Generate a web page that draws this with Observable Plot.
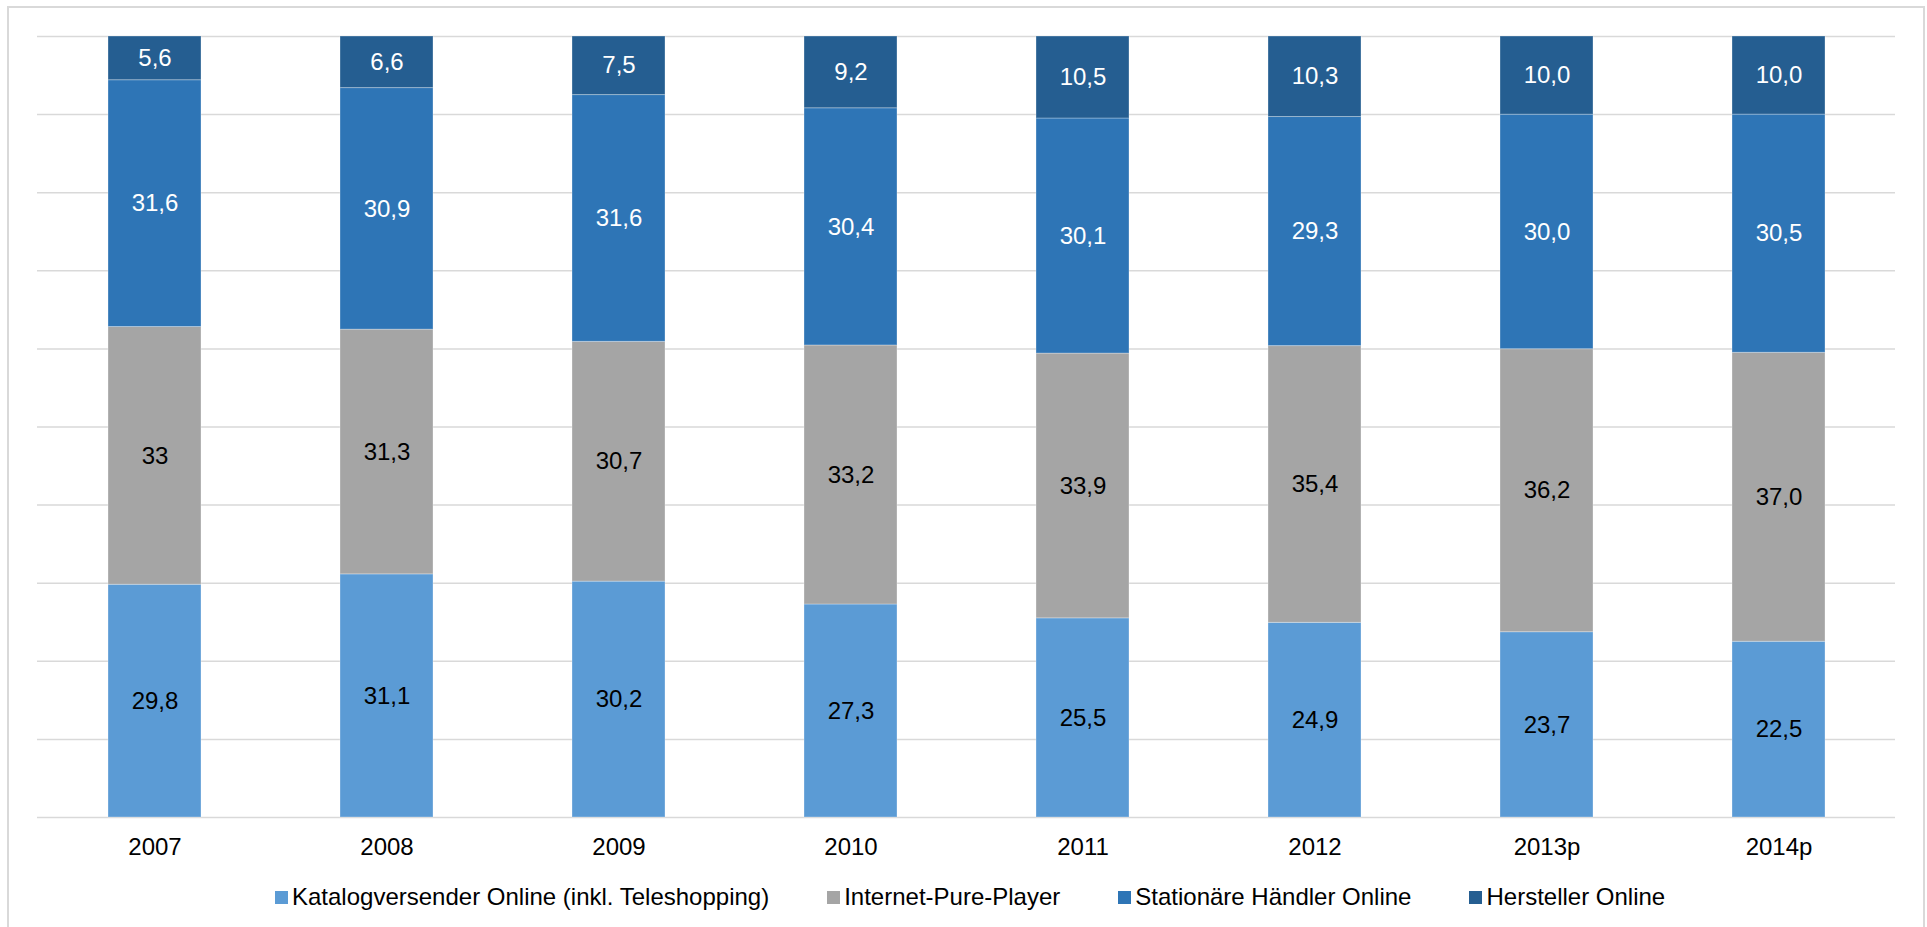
<!DOCTYPE html>
<html>
<head>
<meta charset="utf-8">
<script src="https://cdn.jsdelivr.net/npm/d3@7"></script>
<script src="https://cdn.jsdelivr.net/npm/@observablehq/plot@0.6"></script>
<style>
html, body { margin: 0; padding: 0; background: #fff; overflow: hidden; width: 1927px; height: 927px; }
#wrap { position: relative; width: 1927px; height: 927px; font-family: "Liberation Sans", Arial, sans-serif; }
#frame { position: absolute; left: 7px; top: 6px; width: 1914px; height: 1000px; border: 2px solid #d9d9d9; pointer-events: none; }
#chart { position: absolute; left: 0; top: 0; }
#legend { position: absolute; left: 275px; top: 885px; display: flex; gap: 58px; font-size: 24px; line-height: 24px; color: #000; white-space: nowrap; }
.item { display: flex; align-items: center; }
.sw { width: 13px; height: 13px; margin-right: 4px; }
</style>
</head>
<body>
<div id="wrap">
  <div id="chart"></div>
  <div id="legend"></div>
  <div id="frame"></div>
</div>
<script>
// ---- data ----
const years = ["2007", "2008", "2009", "2010", "2011", "2012", "2013p", "2014p"];
const katalogversender = ["29,8", "31,1", "30,2", "27,3", "25,5", "24,9", "23,7", "22,5"];
const internetPurePlayer = ["33", "31,3", "30,7", "33,2", "33,9", "35,4", "36,2", "37,0"];
const stationaereHaendler = ["31,6", "30,9", "31,6", "30,4", "30,1", "29,3", "30,0", "30,5"];
const herstellerOnline = ["5,6", "6,6", "7,5", "9,2", "10,5", "10,3", "10,0", "10,0"];
const seriesNames = [
  "Katalogversender Online (inkl. Teleshopping)",
  "Internet-Pure-Player",
  "Stationäre Händler Online",
  "Hersteller Online"
];
const gridTicks = [0, 0.1, 0.2, 0.3, 0.4, 0.5, 0.6, 0.7, 0.8, 0.9, 1];

// ---- styles ----
const seriesColors = ["#5b9bd5", "#a5a5a5", "#2e75b6", "#255e91"];
const labelColors = ["#000000", "#000000", "#ffffff", "#ffffff"];
const FONT = '"Liberation Sans", Arial, sans-serif';

const seriesLabels = [katalogversender, internetPurePlayer, stationaereHaendler, herstellerOnline];
const rows = [];
seriesLabels.forEach((labels, s) => {
  labels.forEach((label, i) => {
    rows.push({
      year: years[i],
      series: seriesNames[s],
      s,
      label,
      value: +label.replace(",", ".")
    });
  });
});

const chart = Plot.plot({
  width: 1927,
  height: 870,
  marginLeft: 37,
  marginRight: 32,
  marginTop: 36,
  marginBottom: 53,
  style: { fontFamily: FONT, fontSize: "24px", color: "#000", background: "transparent" },
  x: { domain: years, paddingInner: 0.6, paddingOuter: 0.3, label: null, tickSize: 0, tickPadding: 20 },
  y: { domain: [0, 1], axis: null },
  marks: [
    Plot.ruleY(gridTicks, { stroke: "#d9d9d9", strokeWidth: 1.5 }),
    Plot.barY(rows, Plot.stackY({ offset: "normalize" }, {
      x: "year", y: "value", z: "series",
      fill: d => seriesColors[d.s],
      stroke: "#ffffff", strokeOpacity: 0.3, strokeWidth: 1
    })),
    Plot.text(rows, Plot.stackY({ offset: "normalize" }, {
      x: "year", y: "value", z: "series",
      text: "label",
      fill: d => labelColors[d.s],
      fontSize: 24,
      fontFamily: FONT
    }))
  ]
});
document.getElementById("chart").appendChild(chart);

// legend
const legend = document.getElementById("legend");
seriesNames.forEach((name, s) => {
  const item = document.createElement("div");
  item.className = "item";
  const sw = document.createElement("span");
  sw.className = "sw";
  sw.style.background = seriesColors[s];
  const t = document.createElement("span");
  t.textContent = name;
  item.appendChild(sw);
  item.appendChild(t);
  legend.appendChild(item);
});
</script>
</body>
</html>
